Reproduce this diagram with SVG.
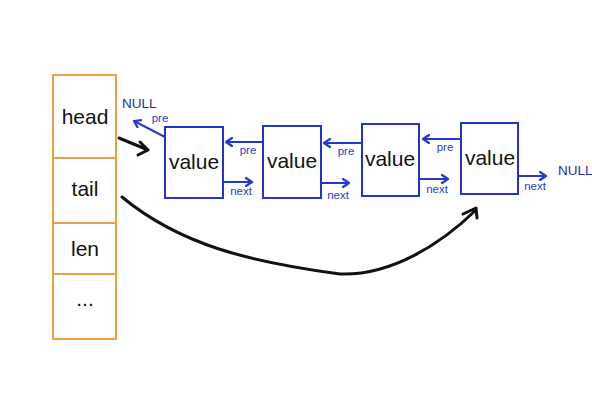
<svg xmlns="http://www.w3.org/2000/svg" width="592" height="400" viewBox="0 0 592 400">
<defs>
<style>
.st{fill:#fff;stroke:#e9a044;stroke-width:2}
.dv{stroke:#e9a044;stroke-width:2}
.big{font-family:"Liberation Sans",Arial,sans-serif;font-size:21px;fill:#111;text-anchor:middle}
.nd{fill:#fff;stroke:#2233cc;stroke-width:2}
.bl{stroke:#2438d0;stroke-width:2;fill:none;marker-end:url(#ah)}
.lb{font-family:"Liberation Sans",Arial,sans-serif;font-size:11.5px;fill:#2a3bc4;text-anchor:middle}
.nl{font-family:"Liberation Sans",Arial,sans-serif;font-size:13.5px;fill:#1e2d9e}
.bk{stroke:#111;stroke-width:3;fill:none;stroke-linecap:round;stroke-linejoin:round}
</style>
<marker id="ah" viewBox="0 0 10 10" refX="8" refY="5" markerWidth="10" markerHeight="10" markerUnits="userSpaceOnUse" orient="auto">
<path d="M2,1 L8,5 L2,9" fill="none" stroke="#2438d0" stroke-width="2.2" stroke-linecap="round" stroke-linejoin="round"/>
</marker>
</defs>
<rect width="592" height="400" fill="#fff"/>
<g id="struct">
<rect class="st" x="53" y="75" width="63" height="264"/>
<line class="dv" x1="53" y1="158" x2="116" y2="158"/>
<line class="dv" x1="53" y1="223" x2="116" y2="223"/>
<line class="dv" x1="53" y1="274" x2="116" y2="274"/>
<text class="big" x="85" y="124">head</text>
<text class="big" x="85" y="196">tail</text>
<text class="big" x="85" y="256">len</text>
<text class="big" x="85" y="306">...</text>
</g>
<g id="node1">
<rect class="nd" x="165" y="127" width="58" height="71"/>
<text class="big" x="194" y="169">value</text>
</g>
<g id="node2">
<rect class="nd" x="263" y="126" width="58" height="72"/>
<text class="big" x="292" y="168">value</text>
</g>
<g id="node3">
<rect class="nd" x="362" y="124" width="57" height="72"/>
<text class="big" x="390" y="166">value</text>
</g>
<g id="node4">
<rect class="nd" x="461" y="123" width="57" height="71"/>
<text class="big" x="490" y="165">value</text>
</g>
<g id="connectors">
<line class="bl" x1="165" y1="137" x2="134" y2="121"/>
<line class="bl" x1="263" y1="142" x2="226" y2="142"/>
<line class="bl" x1="362" y1="143" x2="324" y2="143"/>
<line class="bl" x1="461" y1="139" x2="423" y2="139"/>
<line class="bl" x1="223" y1="182" x2="252" y2="182"/>
<line class="bl" x1="321" y1="183" x2="349" y2="183"/>
<line class="bl" x1="420" y1="179" x2="448" y2="179"/>
<line class="bl" x1="518" y1="176" x2="546" y2="176"/>
<path class="bk" d="M119,138 L148,150 M140,142 L148,150 L138,155"/>
<path class="bk" d="M122,197 C180,245 250,262 340,274 C390,276 440,245 476,210 M463,214 L476,208 L477,218"/>
</g>
<g id="labels">
<text class="nl" x="122" y="108">NULL</text>
<text class="lb" x="160" y="122">pre</text>
<text class="lb" x="248" y="154">pre</text>
<text class="lb" x="346" y="155">pre</text>
<text class="lb" x="445" y="151">pre</text>
<text class="lb" x="241" y="195">next</text>
<text class="lb" x="338" y="199">next</text>
<text class="lb" x="437" y="193">next</text>
<text class="lb" x="535" y="190">next</text>
<text class="nl" x="558" y="175">NULL</text>
</g>
</svg>
